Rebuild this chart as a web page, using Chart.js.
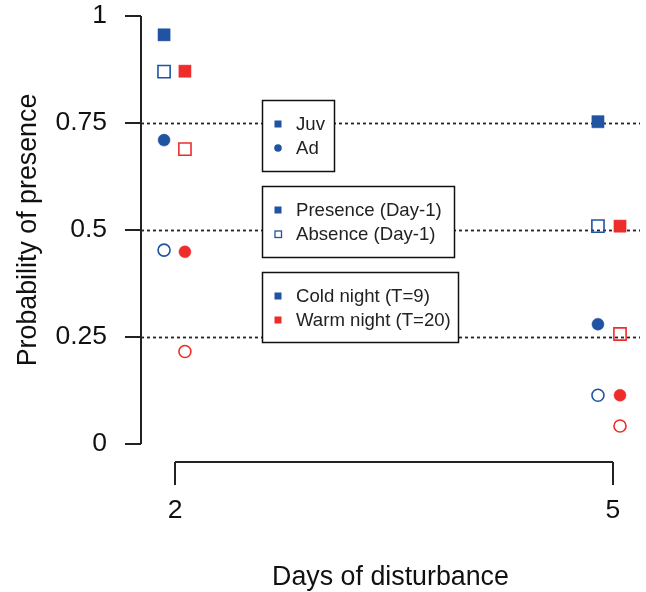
<!DOCTYPE html>
<html>
    <head>
        <meta content="text/html;charset=utf-8" http-equiv="Content-Type">
        <script src="https://cdn.jsdelivr.net/npm/chart.js@4.4.1/dist/chart.umd.min.js"></script>
        <style type="text/css">
            body{
                margin: 0px;
                background: white;
            }
            #wrap{
                width: 646px;
                height: 592px;
            }
        </style>
    </head>
    <body>
        <div id="wrap">
            <canvas id="myChart" width="646" height="592"></canvas>
        </div>
        <script>
            // days of disturbance, points dodged left (cold) and right (warm)
            var days = [2, 5];
            var coldX = [1.925, 4.897];
            var warmX = [2.068, 5.048];

            // probability of presence at day 2 and day 5
            var juvPresCold = [0.956, 0.753];
            var juvAbsCold  = [0.870, 0.509];
            var juvPresWarm = [0.871, 0.509];
            var juvAbsWarm  = [0.689, 0.257];
            var adPresCold  = [0.710, 0.280];
            var adAbsCold   = [0.453, 0.114];
            var adPresWarm  = [0.449, 0.114];
            var adAbsWarm   = [0.216, 0.042];

            var yTicks = [0, 0.25, 0.5, 0.75, 1];
            var yTickLabels = ['0', '0.25', '0.5', '0.75', '1'];
            var yGrid = [0.25, 0.5, 0.75];
            var xTickLabels = ['2', '5'];

            var blue = '#2153a3';
            var red = '#ee2c2c';
            var font = '"Liberation Sans", Arial, sans-serif';

            function pts(xs, ys){
                var out = [];
                for(var i = 0; i < xs.length; i++){
                    out.push({x: xs[i], y: ys[i]});
                }
                return out;
            }

            function series(label, xs, ys, color, shape, filled){
                return {
                    label: label,
                    data: pts(xs, ys),
                    pointStyle: shape,
                    pointRadius: shape == 'rect' ? 8.6 : 6,
                    pointBackgroundColor: filled ? color : 'rgba(0,0,0,0)',
                    pointBorderColor: color,
                    pointBorderWidth: filled ? 0.5 : 1.6,
                    showLine: false,
                    clip: false
                };
            }

            var rAxes = {
                id: 'rAxes',
                beforeDatasetsDraw: function(chart){
                    var ctx = chart.ctx;
                    var xs = chart.scales.x, ys = chart.scales.y;
                    var area = chart.chartArea;
                    ctx.save();
                    ctx.strokeStyle = '#222';
                    ctx.fillStyle = '#111';

                    // dotted reference lines
                    ctx.lineWidth = 1.8;
                    ctx.setLineDash([3, 3]);
                    yGrid.forEach(function(v){
                        var y = Math.round(ys.getPixelForValue(v)) + 0.5;
                        ctx.beginPath();
                        ctx.moveTo(area.left, y);
                        ctx.lineTo(area.right, y);
                        ctx.stroke();
                    });
                    ctx.setLineDash([]);

                    // y axis
                    ctx.lineWidth = 2;
                    ctx.beginPath();
                    ctx.moveTo(area.left, ys.getPixelForValue(0));
                    ctx.lineTo(area.left, ys.getPixelForValue(1));
                    ctx.stroke();
                    ctx.font = '26.5px ' + font;
                    ctx.textAlign = 'right';
                    ctx.textBaseline = 'middle';
                    yTicks.forEach(function(v, i){
                        var y = ys.getPixelForValue(v);
                        ctx.beginPath();
                        ctx.moveTo(area.left - 16, y);
                        ctx.lineTo(area.left, y);
                        ctx.stroke();
                        ctx.fillText(yTickLabels[i], area.left - 34, y);
                    });

                    // x axis
                    var x0 = xs.getPixelForValue(days[0]);
                    var x1 = xs.getPixelForValue(days[days.length - 1]);
                    var yb = area.bottom;
                    ctx.beginPath();
                    ctx.moveTo(x0, yb);
                    ctx.lineTo(x1, yb);
                    ctx.stroke();
                    ctx.textAlign = 'center';
                    days.forEach(function(d, i){
                        var x = xs.getPixelForValue(d);
                        ctx.beginPath();
                        ctx.moveTo(x, yb);
                        ctx.lineTo(x, yb + 23);
                        ctx.stroke();
                        ctx.fillText(xTickLabels[i], x, yb + 49);
                    });

                    // axis titles
                    ctx.font = '26.8px ' + font;
                    ctx.fillText('Days of disturbance', (area.left + area.right) / 2, 578);
                    ctx.save();
                    ctx.translate(29, ys.getPixelForValue(0.5));
                    ctx.rotate(-Math.PI / 2);
                    ctx.fillText('Probability of presence', 0, 0);
                    ctx.restore();

                    // legends
                    drawLegend(ctx, 262, 100, 72, 71, [
                        ['Juv', 'rect', true, blue],
                        ['Ad', 'circle', true, blue]
                    ]);
                    drawLegend(ctx, 262, 186, 192, 71, [
                        ['Presence (Day-1)', 'rect', true, blue],
                        ['Absence (Day-1)', 'rect', false, blue]
                    ]);
                    drawLegend(ctx, 262, 272, 196, 70, [
                        ['Cold night (T=9)', 'rect', true, blue],
                        ['Warm night (T=20)', 'rect', true, red]
                    ]);
                    ctx.restore();
                }
            };

            function drawLegend(ctx, x, y, w, h, rows){
                ctx.save();
                ctx.fillStyle = 'white';
                ctx.fillRect(x, y, w, h);
                ctx.strokeStyle = '#111';
                ctx.lineWidth = 1.5;
                ctx.strokeRect(x + 0.5, y + 0.5, w, h);
                ctx.font = '18.6px ' + font;
                ctx.textAlign = 'left';
                ctx.textBaseline = 'middle';
                rows.forEach(function(r, i){
                    var cy = y + 24 + i * 24;
                    var cx = x + 16;
                    ctx.fillStyle = r[3];
                    ctx.strokeStyle = r[3];
                    ctx.lineWidth = 1.3;
                    if(r[1] == 'rect'){
                        if(r[2]) ctx.fillRect(cx - 3.5, cy - 3.5, 7, 7);
                        else ctx.strokeRect(cx - 3, cy - 3, 6.5, 6.5);
                    } else {
                        ctx.beginPath();
                        ctx.arc(cx, cy, 3.8, 0, Math.PI * 2);
                        ctx.fill();
                    }
                    ctx.fillStyle = '#222';
                    ctx.fillText(r[0], x + 34, cy + 1);
                });
                ctx.restore();
            }

            var ctx = document.getElementById('myChart').getContext('2d');
            var chart = new Chart(ctx, {
                type: 'scatter',
                data: {
                    datasets: [
                        series('Juv presence cold', coldX, juvPresCold, blue, 'rect', true),
                        series('Juv absence cold', coldX, juvAbsCold, blue, 'rect', false),
                        series('Juv presence warm', warmX, juvPresWarm, red, 'rect', true),
                        series('Juv absence warm', warmX, juvAbsWarm, red, 'rect', false),
                        series('Ad presence cold', coldX, adPresCold, blue, 'circle', true),
                        series('Ad absence cold', coldX, adAbsCold, blue, 'circle', false),
                        series('Ad presence warm', warmX, adPresWarm, red, 'circle', true),
                        series('Ad absence warm', warmX, adAbsWarm, red, 'circle', false)
                    ]
                },
                options: {
                    responsive: false,
                    animation: false,
                    devicePixelRatio: 1,
                    layout: {autoPadding: false, padding: {left: 141, right: 6, top: 10, bottom: 130}},
                    plugins: {
                        legend: {display: false},
                        tooltip: {enabled: false}
                    },
                    scales: {
                        x: {type: 'linear', display: false, min: 1.7671, max: 5.185},
                        y: {type: 'linear', display: false, min: -0.04206, max: 1.014}
                    }
                },
                plugins: [rAxes]
            });
        </script>
    </body>
</html>
